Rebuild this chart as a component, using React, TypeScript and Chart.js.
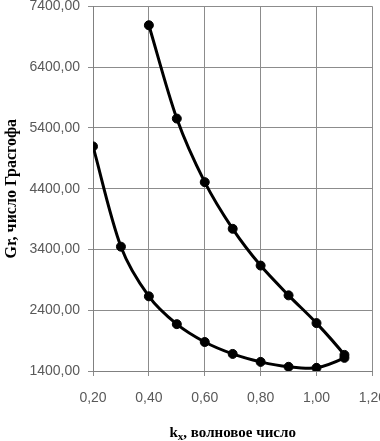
import React, { useEffect, useRef } from "react";
import { Chart, registerables } from "chart.js";

Chart.register(...registerables);

// Neutral curve: lower branch then upper branch (kx, Gr)
const lowerK = [0.2, 0.3, 0.4, 0.5, 0.6, 0.7, 0.8, 0.9, 1.0, 1.1];
const lowerGr = [5096, 3446, 2629, 2171, 1877, 1681, 1550, 1469, 1452, 1616];
const upperK = [1.1, 1.0, 0.9, 0.8, 0.7, 0.6, 0.5, 0.4];
const upperGr = [1665, 2188, 2645, 3135, 3740, 4508, 5554, 7090];

const xMin = 0.2;
const xMax = 1.2;
const xStep = 0.2;
const yMin = 1400;
const yMax = 7400;
const yStep = 1000;

const yTitle = "Gr, число Грасгофа";
const xTitleMain = "k";
const xTitleSub = "x";
const xTitleRest = ", волновое число";

const fmt = (v: number) => Number(v).toFixed(2).replace(".", ",");

const W = 400;
const H = 451;
const SHIFT = 10;

export default function App() {
  const ref = useRef<HTMLCanvasElement | null>(null);

  useEffect(() => {
    const canvas = ref.current;
    if (!canvas) return;
    const pts = [
      ...lowerK.map((k, i) => ({ x: k, y: lowerGr[i] })),
      ...upperK.map((k, i) => ({ x: k, y: upperGr[i] })),
    ];

    const titles = {
      id: "titles",
      afterDraw(chart: any) {
        const { ctx, chartArea } = chart;
        ctx.save();
        ctx.fillStyle = "#000";
        // y title
        ctx.font = "bold 16px 'Liberation Serif', 'DejaVu Serif', serif";
        ctx.translate(12, (chartArea.top + chartArea.bottom) / 2);
        ctx.rotate(-Math.PI / 2);
        ctx.textAlign = "center";
        ctx.textBaseline = "middle";
        ctx.fillText(yTitle, 0, 0);
        ctx.restore();

        ctx.save();
        ctx.fillStyle = "#000";
        const mainFont = "bold 15px 'Liberation Serif', 'DejaVu Serif', serif";
        const subFont = "bold 11px 'Liberation Serif', 'DejaVu Serif', serif";
        ctx.font = mainFont;
        const w1 = ctx.measureText(xTitleMain).width;
        const w3 = ctx.measureText(xTitleRest).width;
        ctx.font = subFont;
        const w2 = ctx.measureText(xTitleSub).width;
        const total = w1 + w2 + w3;
        const cx = (chartArea.left + chartArea.right) / 2;
        let x = cx - total / 2;
        const base = 447;
        ctx.textAlign = "left";
        ctx.textBaseline = "alphabetic";
        ctx.font = mainFont;
        ctx.fillText(xTitleMain, x, base);
        x += w1;
        ctx.font = subFont;
        ctx.fillText(xTitleSub, x, base + 3);
        x += w2;
        ctx.font = mainFont;
        ctx.fillText(xTitleRest, x, base);
        ctx.restore();
      },
    };

    const chart = new Chart(canvas, {
      type: "scatter",
      data: {
        datasets: [
          {
            data: pts,
            showLine: true,
            borderColor: "#000",
            backgroundColor: "#000",
            borderWidth: 3,
            pointRadius: 4.5,
            pointBorderWidth: 1,
            pointBackgroundColor: "#000",
            pointBorderColor: "#000",
            tension: 0.3,
          },
        ],
      },
      options: {
        responsive: false,
        animation: false,
        devicePixelRatio: 1,
        layout: { padding: { top: 14, right: 27, left: 0, bottom: 0 } },
        plugins: { legend: { display: false }, tooltip: { enabled: false } },
        scales: {
          x: {
            type: "linear",
            min: xMin,
            max: xMax,
            ticks: {
              stepSize: xStep,
              callback: (v: any) => fmt(v),
              font: { family: "'Liberation Sans', Arial, sans-serif", size: 14 },
              color: "#595959",
              padding: 14,
              maxRotation: 0,
            },
            grid: { color: "#8c8c8c", tickLength: 5, tickColor: "#8c8c8c" },
            border: { color: "#808080" },
            afterFit: (s: any) => {
              s.height = 70;
            },
          },
          y: {
            type: "linear",
            min: yMin,
            max: yMax,
            ticks: {
              stepSize: yStep,
              callback: (v: any) => fmt(v),
              font: { family: "'Liberation Sans', Arial, sans-serif", size: 14 },
              color: "#595959",
              padding: 8,
            },
            grid: { color: "#8c8c8c", tickLength: 5, tickColor: "#8c8c8c" },
            border: { color: "#808080" },
            afterFit: (s: any) => {
              s.width = 93;
            },
          },
        },
      },
      plugins: [titles],
    });
    return () => chart.destroy();
  }, []);

  return (
    <div style={{ position: "fixed", left: 0, top: -SHIFT, width: W, height: H, background: "#fff" }}>
      <canvas ref={ref} width={W} height={H} style={{ width: W, height: H, display: "block" }} />
    </div>
  );
}
